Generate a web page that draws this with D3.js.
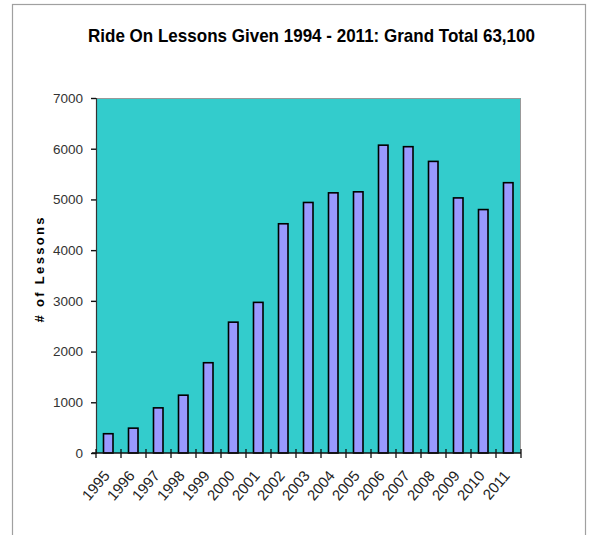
<!DOCTYPE html>
<html>
<head>
<meta charset="utf-8">
<script src="https://cdn.jsdelivr.net/npm/d3@7"></script>
<style>
  body { margin: 0; background: #fff; }
  text { font-family: Arial, "Liberation Sans", sans-serif; }
</style>
</head>
<body>
<div id="chart"></div>
<script>
// data
var years = ["1995", "1996", "1997", "1998", "1999", "2000", "2001", "2002", "2003",
  "2004", "2005", "2006", "2007", "2008", "2009", "2010", "2011"];
var lessons = [380, 490, 890, 1140, 1780, 2580, 2970, 4520, 4940,
  5130, 5150, 6070, 6040, 5750, 5030, 4800, 5330];
var yTicks = [0, 1000, 2000, 3000, 4000, 5000, 6000, 7000];
var title = "Ride On Lessons Given 1994 - 2011: Grand Total 63,100";
var yTitle = "# of Lessons";

var svgWidth = 589;
var svgHeight = 535;

// plot area
var margin = { top: 98, right: 68, bottom: 82, left: 96 };
var width = svgWidth - margin.left - margin.right;
var height = svgHeight - margin.top - margin.bottom;

var data = years.map(function(y, i) { return { year: y, value: lessons[i] }; });

var svg = d3.select("#chart")
  .append("svg")
  .attr("width", svgWidth)
  .attr("height", svgHeight);

// outer frame
svg.append("rect")
  .attr("x", 12.5)
  .attr("y", 4.5)
  .attr("width", 573)
  .attr("height", 600)
  .attr("fill", "none")
  .attr("stroke", "#a0a0a0")
  .attr("stroke-width", 1.2);

svg.append("text")
  .attr("x", 311.5)
  .attr("y", 42)
  .attr("text-anchor", "middle")
  .attr("font-size", 19)
  .attr("font-weight", "bold")
  .attr("textLength", 447)
  .attr("lengthAdjust", "spacingAndGlyphs")
  .text(title);

var chartGroup = svg.append("g")
  .attr("transform", `translate(${margin.left}, ${margin.top})`);

var xScale = d3.scaleBand()
  .domain(years)
  .range([0, width]);

var yScale = d3.scaleLinear()
  .domain([0, 7000])
  .range([height, 0]);

// plot background
chartGroup.append("rect")
  .attr("width", width)
  .attr("height", height)
  .attr("fill", "#33cccc");

// top and right border of the plot
chartGroup.append("path")
  .attr("d", `M0,0.5H${width - 0.5}V${height}`)
  .attr("fill", "none")
  .attr("stroke", "#999");

// bars
var bw = xScale.bandwidth();
chartGroup.selectAll(".bar")
  .data(data)
  .enter()
  .append("rect")
  .attr("class", "bar")
  .attr("x", d => xScale(d.year) + bw * 0.3)
  .attr("y", d => yScale(d.value))
  .attr("width", bw * 0.38)
  .attr("height", d => height - yScale(d.value))
  .attr("fill", "#9999ff")
  .attr("stroke", "#000")
  .attr("stroke-width", 1.6);

// y axis
var leftAxis = d3.axisLeft(yScale)
  .tickValues(yTicks)
  .tickSize(5)
  .tickPadding(8)
  .tickFormat(d3.format("d"));

var yAxis = chartGroup.append("g").call(leftAxis);
yAxis.select(".domain").attr("stroke", "#333").attr("stroke-width", 1.2);
yAxis.selectAll(".tick line").attr("stroke", "#111").attr("stroke-width", 1.4);
yAxis.selectAll(".tick text")
  .attr("font-size", 13.5)
  .attr("font-family", "Arial, 'Liberation Sans', sans-serif")
  .attr("fill", "#333");

// x axis: line, ticks between the bars, slanted labels
var xAxis = chartGroup.append("g")
  .attr("transform", `translate(0, ${height})`);

xAxis.append("line")
  .attr("x1", -4)
  .attr("x2", width)
  .attr("stroke", "#111")
  .attr("stroke-width", 1.6);

var edges = years.map(y => xScale(y)).concat([width]);
xAxis.selectAll(".xtick")
  .data(edges)
  .enter()
  .append("line")
  .attr("class", "xtick")
  .attr("x1", d => d)
  .attr("x2", d => d)
  .attr("y1", -4)
  .attr("y2", 5)
  .attr("stroke", "#111")
  .attr("stroke-width", 1.3);

xAxis.selectAll(".xlabel")
  .data(years)
  .enter()
  .append("text")
  .attr("class", "xlabel")
  .attr("transform", d => `translate(${xScale(d) + bw / 2 + 2}, 23) rotate(-50)`)
  .attr("text-anchor", "end")
  .attr("font-size", 15)
  .attr("fill", "#222")
  .text(d => d);

// y axis title
svg.append("text")
  .attr("transform", "translate(44, 270) rotate(-90)")
  .attr("text-anchor", "middle")
  .attr("font-size", 13)
  .attr("font-weight", "bold")
  .attr("textLength", 105)
  .attr("lengthAdjust", "spacing")
  .text(yTitle);
</script>
</body>
</html>
